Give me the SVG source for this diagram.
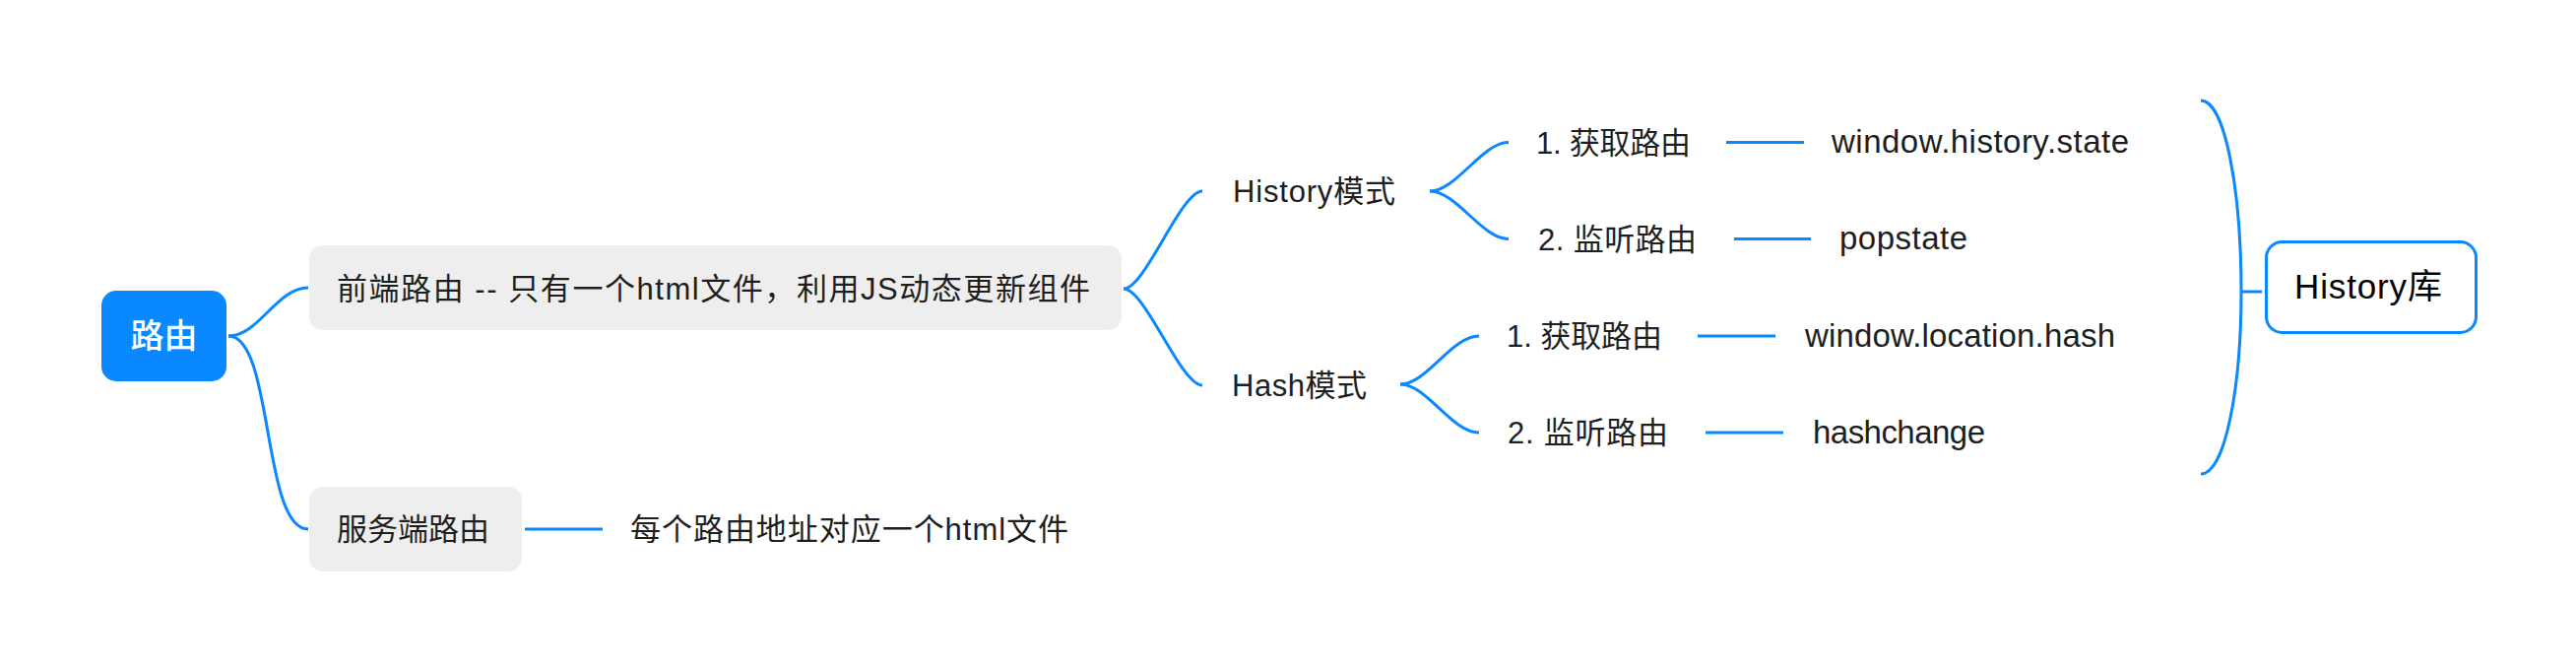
<svg xmlns="http://www.w3.org/2000/svg" width="2616" height="682" viewBox="0 0 2616 682">
<style>
  .t { font-family: "Liberation Sans", "Noto Sans CJK SC", sans-serif; font-size: 31px; fill: #1e1e1e; }
  .lat { font-size: 33px; }
  .root { font-family: "Liberation Sans", "Noto Sans CJK SC", sans-serif; font-size: 34px; fill: #ffffff; font-weight: 500; }
  .lib { font-family: "Liberation Sans", "Noto Sans CJK SC", sans-serif; font-size: 35px; fill: #000000; }
  .gray { fill: #eeeeee; }
  .c { fill: none; stroke: #0a88ff; stroke-width: 3; stroke-linecap: butt; }
</style>
<rect width="2616" height="682" fill="#ffffff"/>

<g id="connectors">
  <path class="c" d="M232 341 C263 341 281 292 313 292"/>
  <path class="c" d="M232 341 C278 341 266 537 313 537"/>
  <path class="c" d="M533 537 L612 537"/>
  <path class="c" d="M1141 293 C1163 293 1199 194 1221 194"/>
  <path class="c" d="M1141 293 C1163 293 1199 391 1221 391"/>
  <path class="c" d="M1452 194 C1479 194 1505 144.5 1532 144.5"/>
  <path class="c" d="M1452 194 C1479 194 1505 242.5 1532 242.5"/>
  <path class="c" d="M1422 390 C1449 390 1474 341 1502 341"/>
  <path class="c" d="M1422 390 C1449 390 1474 439 1502 439"/>
  <path class="c" d="M1753 144.5 L1832 144.5"/>
  <path class="c" d="M1761 242.5 L1839 242.5"/>
  <path class="c" d="M1724 341 L1803 341"/>
  <path class="c" d="M1732 439 L1811 439"/>
  <path class="c" d="M2235 102 C2260 102 2276 195 2276 296 C2276 392 2260 481 2235 481"/>
  <path class="c" d="M2276 296 L2297 296"/>
</g>

<g id="root">
  <rect x="103" y="295" width="127" height="92" rx="15" fill="#0a88ff"/>
  <text class="root" x="166.5" y="353" text-anchor="middle">路由</text>
</g>

<g id="frontend">
  <rect class="gray" x="314" y="249" width="825" height="86" rx="14"/>
  <text class="t" x="342" y="304" textLength="765" lengthAdjust="spacing">前端路由 -- 只有一个html文件，利用JS动态更新组件</text>
</g>

<g id="server">
  <rect class="gray" x="314" y="494" width="216" height="86" rx="14"/>
  <text class="t" x="342" y="548">服务端路由</text>
</g>

<g id="server-desc">
  <text class="t" x="640" y="548" textLength="445" lengthAdjust="spacing">每个路由地址对应一个html文件</text>
</g>

<g id="history-mode">
  <text class="t" x="1252" y="205" textLength="165" lengthAdjust="spacing">History模式</text>
</g>

<g id="hash-mode">
  <text class="t" x="1251" y="402" textLength="137" lengthAdjust="spacing">Hash模式</text>
</g>

<g id="history-get">
  <text class="t" x="1560" y="156" textLength="157" lengthAdjust="spacing">1. 获取路由</text>
</g>
<g id="history-get-val">
  <text class="t lat" x="1860" y="155" textLength="302" lengthAdjust="spacing">window.history.state</text>
</g>

<g id="history-listen">
  <text class="t" x="1562" y="254" textLength="161" lengthAdjust="spacing">2. 监听路由</text>
</g>
<g id="history-listen-val">
  <text class="t lat" x="1868" y="253" textLength="130" lengthAdjust="spacing">popstate</text>
</g>

<g id="hash-get">
  <text class="t" x="1530" y="352" textLength="158" lengthAdjust="spacing">1. 获取路由</text>
</g>
<g id="hash-get-val">
  <text class="t lat" x="1833" y="352" textLength="315" lengthAdjust="spacing">window.location.hash</text>
</g>

<g id="hash-listen">
  <text class="t" x="1531" y="450" textLength="163" lengthAdjust="spacing">2. 监听路由</text>
</g>
<g id="hash-listen-val">
  <text class="t lat" x="1841" y="450" textLength="175" lengthAdjust="spacing">hashchange</text>
</g>

<g id="history-lib">
  <rect x="2301.5" y="245.5" width="213" height="92" rx="16" fill="#ffffff" stroke="#0a88ff" stroke-width="3"/>
  <text class="lib" x="2330" y="303" textLength="150" lengthAdjust="spacing">History库</text>
</g>
</svg>
